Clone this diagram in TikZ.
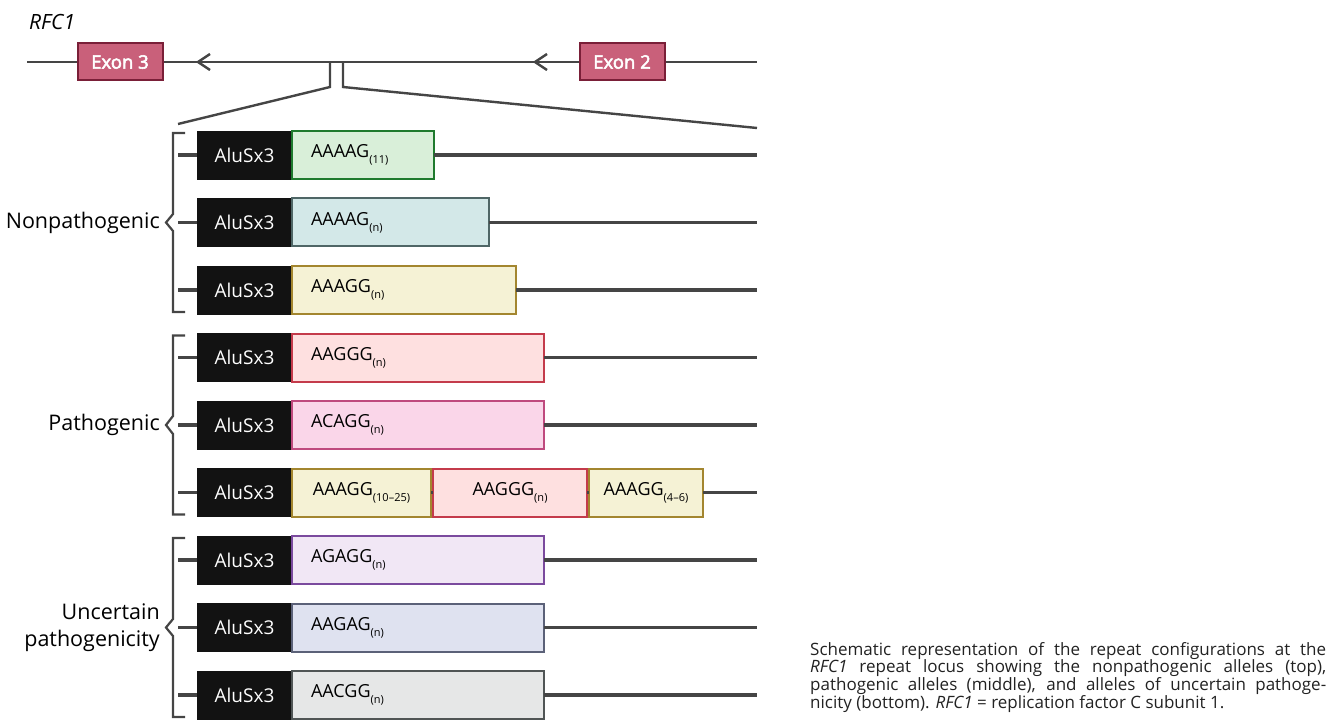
\documentclass[tikz,border=0pt]{standalone}
\usepackage{fontspec}
\setmainfont{Open Sans}
\newfontfamily\exonfont[FakeBold=3]{Open Sans}
\usepackage{tikz}
\usetikzlibrary{positioning}

\definecolor{lineGrey}{HTML}{454545}
\definecolor{exonFill}{HTML}{C9607A}
\definecolor{exonEdge}{HTML}{7A1F38}
\definecolor{aluBlack}{HTML}{121212}
\definecolor{greenFill}{HTML}{D9EFD9}
\definecolor{greenEdge}{HTML}{1F7A2E}
\definecolor{slateFill}{HTML}{D3E8E8}
\definecolor{slateEdge}{HTML}{4F6666}
\definecolor{goldFill}{HTML}{F5F2D5}
\definecolor{goldEdge}{HTML}{A3862F}
\definecolor{redFill}{HTML}{FEE0E0}
\definecolor{redEdge}{HTML}{C43B4B}
\definecolor{pinkFill}{HTML}{FAD6E9}
\definecolor{pinkEdge}{HTML}{BF4A7E}
\definecolor{purpleFill}{HTML}{F1E7F5}
\definecolor{purpleEdge}{HTML}{7B4A9E}
\definecolor{periFill}{HTML}{DFE2F0}
\definecolor{periEdge}{HTML}{5B6178}
\definecolor{greyFill}{HTML}{E6E7E7}
\definecolor{greyEdge}{HTML}{505555}
\definecolor{captionText}{HTML}{222222}

\newcommand{\repsub}[1]{\raisebox{-6pt}{\fontsize{11}{12}\selectfont #1}}

\tikzset{
	geneline/.style={draw=lineGrey, line width=2.4pt},
	rowline/.style={draw=lineGrey, line width=3.6pt},
	braceline/.style={draw=lineGrey, line width=2.2pt},
	exon/.style={draw=exonEdge, fill=exonFill, line width=2pt, minimum width=85pt,
		minimum height=37pt, inner sep=0pt, text=white,
		font=\exonfont\fontsize{18.5}{20}\selectfont},
	alubox/.style={draw=aluBlack, fill=aluBlack, minimum width=95pt, minimum height=48pt,
		inner sep=0pt, outer sep=0pt, text=white, font=\fontsize{19}{20}\selectfont},
	repbox/.style={line width=2pt, minimum height=48pt, inner xsep=19pt, inner ysep=0pt,
		outer sep=0pt, align=left, font=\fontsize{18}{20}\selectfont},
	midbox/.style={line width=2pt, minimum height=48pt, inner sep=0pt, outer sep=0pt,
		font=\fontsize{18}{20}\selectfont},
	grouplabel/.style={anchor=east, inner sep=0pt, align=right,
		font=\fontsize{21.5}{27}\selectfont},
}

\begin{document}
\begin{tikzpicture}[x=1pt, y=-1pt]

	% ------------------------------------------------
	% Ensure the dimensions of graphic are appropriate
	\useasboundingbox (0,0) rectangle (1336,722);

	% ------------------------------------------------
	% Gene with the two exons
	\node[anchor=west, inner sep=0pt, font=\fontsize{21}{24}\selectfont\itshape] (GeneName) at (29,22) {RFC1};

	\coordinate (GeneBeg) at (27,62);
	\coordinate (GeneEnd) at (757,62);
	\node[exon] (Exon3) at (120,62) {Exon 3};
	\node[exon] (Exon2) at (622,62) {Exon 2};

	\draw[geneline] (GeneBeg) -- (Exon3) -- (Exon2) -- (GeneEnd);

	% direction chevrons
	\draw[geneline] (210,54) -- (198,62) -- (210,70);
	\draw[geneline] (547,54) -- (535,62) -- (547,70);

	% ----------------
	% Zoom onto the repeat locus
	\coordinate (ZoomL) at (330,62);
	\coordinate (ZoomR) at (343,62);
	\path (ZoomL) +(0,25) coordinate (ZoomLBot);
	\path (ZoomR) +(0,25) coordinate (ZoomRBot);
	\coordinate (ZoomLEnd) at (178,124);
	\coordinate (ZoomREnd) at (757,128);

	\draw[geneline] (ZoomL) -- (ZoomLBot) -- (ZoomLEnd);
	\draw[geneline] (ZoomR) -- (ZoomRBot) -- (ZoomREnd);

	% ------------------------------------------------
	% Nonpathogenic alleles
	\node[alubox] (Alu1) at (244.5,155) {AluSx3};
	\node[alubox] (Alu2) at (244.5,222.5) {AluSx3};
	\node[alubox] (Alu3) at (244.5,290) {AluSx3};

	\node[repbox, fill=greenFill, draw=greenEdge, text width=104pt, right=0pt of Alu1] (Rep1) {AAAAG\repsub{(11)}};
	\node[repbox, fill=slateFill, draw=slateEdge, text width=159pt, right=0pt of Alu2] (Rep2) {AAAAG\repsub{(n)}};
	\node[repbox, fill=goldFill, draw=goldEdge, text width=186pt, right=0pt of Alu3] (Rep3) {AAAGG\repsub{(n)}};

	% ----------------
	% Pathogenic alleles
	\node[alubox] (Alu4) at (244.5,357.5) {AluSx3};
	\node[alubox] (Alu5) at (244.5,425) {AluSx3};
	\node[alubox] (Alu6) at (244.5,492.5) {AluSx3};

	\node[repbox, fill=redFill, draw=redEdge, text width=214pt, right=0pt of Alu4] (Rep4) {AAGGG\repsub{(n)}};
	\node[repbox, fill=pinkFill, draw=pinkEdge, text width=214pt, right=0pt of Alu5] (Rep5) {ACAGG\repsub{(n)}};
	\node[midbox, fill=goldFill, draw=goldEdge, minimum width=139pt, right=0pt of Alu6] (Rep6a) {AAAGG\repsub{(10--25)}};
	\node[midbox, fill=redFill, draw=redEdge, minimum width=154pt, right=2pt of Rep6a] (Rep6b) {AAGGG\repsub{(n)}};
	\node[midbox, fill=goldFill, draw=goldEdge, minimum width=114pt, right=2pt of Rep6b] (Rep6c) {AAAGG\repsub{(4--6)}};

	% ----------------
	% Alleles of uncertain pathogenicity
	\node[alubox] (Alu7) at (244.5,560) {AluSx3};
	\node[alubox] (Alu8) at (244.5,627.5) {AluSx3};
	\node[alubox] (Alu9) at (244.5,695) {AluSx3};

	\node[repbox, fill=purpleFill, draw=purpleEdge, text width=214pt, right=0pt of Alu7] (Rep7) {AGAGG\repsub{(n)}};
	\node[repbox, fill=periFill, draw=periEdge, text width=214pt, right=0pt of Alu8] (Rep8) {AAGAG\repsub{(n)}};
	\node[repbox, fill=greyFill, draw=greyEdge, text width=214pt, right=0pt of Alu9] (Rep9) {AACGG\repsub{(n)}};

	% ------------------------------------------------
	% Flanking lines of each allele
	\coordinate (RowL1) at (178,155);   \coordinate (RowR1) at (757,155);
	\coordinate (RowL2) at (178,222.5); \coordinate (RowR2) at (757,222.5);
	\coordinate (RowL3) at (178,290);   \coordinate (RowR3) at (757,290);
	\coordinate (RowL4) at (178,357.5); \coordinate (RowR4) at (757,357.5);
	\coordinate (RowL5) at (178,425);   \coordinate (RowR5) at (757,425);
	\coordinate (RowL6) at (178,492.5); \coordinate (RowR6) at (757,492.5);
	\coordinate (RowL7) at (178,560);   \coordinate (RowR7) at (757,560);
	\coordinate (RowL8) at (178,627.5); \coordinate (RowR8) at (757,627.5);
	\coordinate (RowL9) at (178,695);   \coordinate (RowR9) at (757,695);

	\draw[rowline] (RowL1) -- (Alu1.west);  \draw[rowline] (Rep1.east) -- (RowR1);
	\draw[rowline] (RowL2) -- (Alu2.west);  \draw[rowline] (Rep2.east) -- (RowR2);
	\draw[rowline] (RowL3) -- (Alu3.west);  \draw[rowline] (Rep3.east) -- (RowR3);
	\draw[rowline] (RowL4) -- (Alu4.west);  \draw[rowline] (Rep4.east) -- (RowR4);
	\draw[rowline] (RowL5) -- (Alu5.west);  \draw[rowline] (Rep5.east) -- (RowR5);
	\draw[rowline] (RowL6) -- (Alu6.west);  \draw[rowline] (Rep6c.east) -- (RowR6);
	\draw[rowline] (Rep6a.east) -- (Rep6b.west);
	\draw[rowline] (Rep6b.east) -- (Rep6c.west);
	\draw[rowline] (RowL7) -- (Alu7.west);  \draw[rowline] (Rep7.east) -- (RowR7);
	\draw[rowline] (RowL8) -- (Alu8.west);  \draw[rowline] (Rep8.east) -- (RowR8);
	\draw[rowline] (RowL9) -- (Alu9.west);  \draw[rowline] (Rep9.east) -- (RowR9);

	% ------------------------------------------------
	% Group braces and their labels
	\draw[braceline] (185,133) -- (173,133) -- (173,214) -- (166,222.5) -- (173,231) -- (173,312) -- (185,312);
	\draw[braceline] (185,335.5) -- (173,335.5) -- (173,416) -- (166,425) -- (173,434) -- (173,514.5) -- (185,514.5);
	\draw[braceline] (185,538) -- (173,538) -- (173,619) -- (166,627.5) -- (173,636) -- (173,717) -- (185,717);

	\node[grouplabel] (NonpathLabel) at (160,222.5) {Nonpathogenic};
	\node[grouplabel] (PathLabel) at (160,425) {Pathogenic};
	\node[grouplabel] (UncertainLabel) at (160,627.5) {Uncertain\\pathogenicity};

	% ------------------------------------------------
	% Caption
	\node[anchor=north west, inner sep=0pt, text width=516pt, align=justify, text=captionText,
		font=\fontsize{17}{17}\selectfont] (Caption) at (810,642)
		{Schematic representation of the repeat configurations at the\linebreak
		\textit{RFC1} repeat locus showing the nonpathogenic alleles (top),\linebreak
		pathogenic alleles (middle), and alleles of uncertain pathoge-\linebreak
		nicity (bottom). \textit{RFC1} = replication factor C subunit 1.};

\end{tikzpicture}
\end{document}
